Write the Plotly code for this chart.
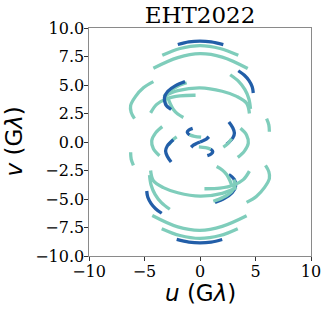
import numpy as np
import plotly.graph_objects as go

# uv tracks (one half; the conjugate -u,-v is drawn too)
TEAL = "#7fcdbb"
BLUE = "#225ea8"

# teal tracks
a_u = [-3.4, -1.8, 0.0, 1.8, 3.45]
a_v = [7.6, 8.2, 8.45, 8.2, 7.6]
b_u = [-4.2, -2.0, 0.0, 2.0, 4.3]
b_v = [6.47, 7.4, 7.75, 7.45, 6.45]
c_u = [2.72, 3.5, 4.05, 4.4, 4.55]
c_v = [5.9, 5.3, 4.6, 3.8, 2.9]
e_u = [-4.2, -5.1, -5.8, -6.25, -6.2, -5.9]
e_v = [5.3, 4.75, 4.0, 3.2, 2.6, 2.05]
f_u = [-1.2, -2.1, -2.85, -3.15, -3.05]
f_v = [5.2, 4.85, 4.35, 3.8, 3.3]
g_u = [-3.3, -2.0, 0.0, 2.0, 3.3, 4.2, 4.45]
g_v = [4.0, 4.5, 4.75, 4.45, 4.0, 3.4, 2.5]
h_u = [-4.45, -3.9, -3.0, -1.8, -0.4]
h_v = [2.55, 3.3, 3.8, 4.05, 4.1]
i_u = [-2.9, -2.7, -2.4, -2.0, -1.5]
i_v = [3.9, 3.4, 2.85, 2.45, 2.15]
l1_u = [-3.4, -4.0, -4.35, -4.2, -3.65]
l1_v = [1.35, 0.8, 0.1, -0.6, -1.2]
l2_u = [-2.1, -2.5, -2.85]
l2_v = [0.45, 0.15, -0.3]
m_u = [-0.95, -0.5, 0.1]
m_v = [0.62, 0.5, 0.43]
s_u = [6.0, 6.2, 6.25]
s_v = [2.05, 1.5, 0.9]

# blue tracks
top_u = [-2.0, -1.0, 0.0, 1.0, 2.1]
top_v = [8.55, 8.78, 8.85, 8.78, 8.55]
r_u = [3.45, 4.0, 4.4, 4.7, 4.8]
r_v = [6.25, 5.85, 5.4, 4.85, 4.3]
fb_u = [-1.35, -2.2, -2.9, -3.2, -3.1, -2.6]
fb_v = [5.3, 4.95, 4.45, 3.9, 3.3, 2.85]
k_u = [-2.4, -2.95, -3.1, -2.95, -2.6]
k_v = [0.2, -0.35, -0.8, -1.25, -1.75]
mb_u = [-0.66, -1.0, -1.15, -0.95]
mb_v = [1.2, 1.05, 0.85, 0.62]
cs_u = [0.0, 0.3, 0.6, 0.8]
cs_v = [0.0, 0.12, 0.28, 0.46]

teal_tracks = [(a_u, a_v), (b_u, b_v), (c_u, c_v), (e_u, e_v), (f_u, f_v),
               (g_u, g_v), (h_u, h_v), (i_u, i_v), (l1_u, l1_v), (l2_u, l2_v),
               (m_u, m_v), (s_u, s_v)]
blue_tracks = [(top_u, top_v), (r_u, r_v), (fb_u, fb_v), (k_u, k_v),
               (mb_u, mb_v), (cs_u, cs_v)]

fig = go.Figure()


def add(u, v, color):
    fig.add_trace(go.Scatter(x=u, y=v, mode="lines", line_shape="spline",
                             line=dict(color=color, width=3.3),
                             showlegend=False, hoverinfo="skip"))


for u, v in blue_tracks:
    add(-np.array(u), -np.array(v), BLUE)
for u, v in teal_tracks:
    add(u, v, TEAL)
    add(-np.array(u), -np.array(v), TEAL)
for u, v in blue_tracks:
    add(u, v, BLUE)

tickfont = dict(family="DejaVu Serif", size=16, color="black")
axis = dict(range=[-10, 10], showgrid=False, zeroline=False, showline=True,
            linecolor="#8a8a8a", linewidth=1.2, mirror=True, ticks="outside",
            ticklen=3.5, tickcolor="#333", tickfont=tickfont)

fig.update_layout(
    width=333, height=310,
    margin=dict(l=89, r=17, t=28, b=54),
    paper_bgcolor="white", plot_bgcolor="white",
    title=dict(text="EHT2022", x=0.5, xref="paper", y=1 - 15 / 310,
               yref="container", yanchor="middle", xanchor="center",
               font=dict(family="DejaVu Serif", size=23, color="black")),
    xaxis=dict(axis, tickvals=[-10, -5, 0, 5, 10], ticklabelstandoff=-3),
    yaxis=dict(axis, tickvals=[-10, -7.5, -5, -2.5, 0, 2.5, 5, 7.5, 10],
               tickformat=".1f", ticklabelstandoff=-3),
    annotations=[
        dict(text="<i>u</i> (G<i>λ</i>)", x=0.5, y=-0.162, xref="paper",
             yref="paper", showarrow=False, xanchor="center", yanchor="middle",
             font=dict(family="DejaVu Sans", size=23, color="black")),
        dict(text="<i>v</i> (G<i>λ</i>)", x=-0.34, y=0.5, xref="paper",
             yref="paper", showarrow=False, textangle=-90, xanchor="center",
             yanchor="middle",
             font=dict(family="DejaVu Sans", size=23, color="black")),
    ],
)

fig.write_html("out.html", config={"displayModeBar": False},
               post_script="document.body.style.margin='0';")
